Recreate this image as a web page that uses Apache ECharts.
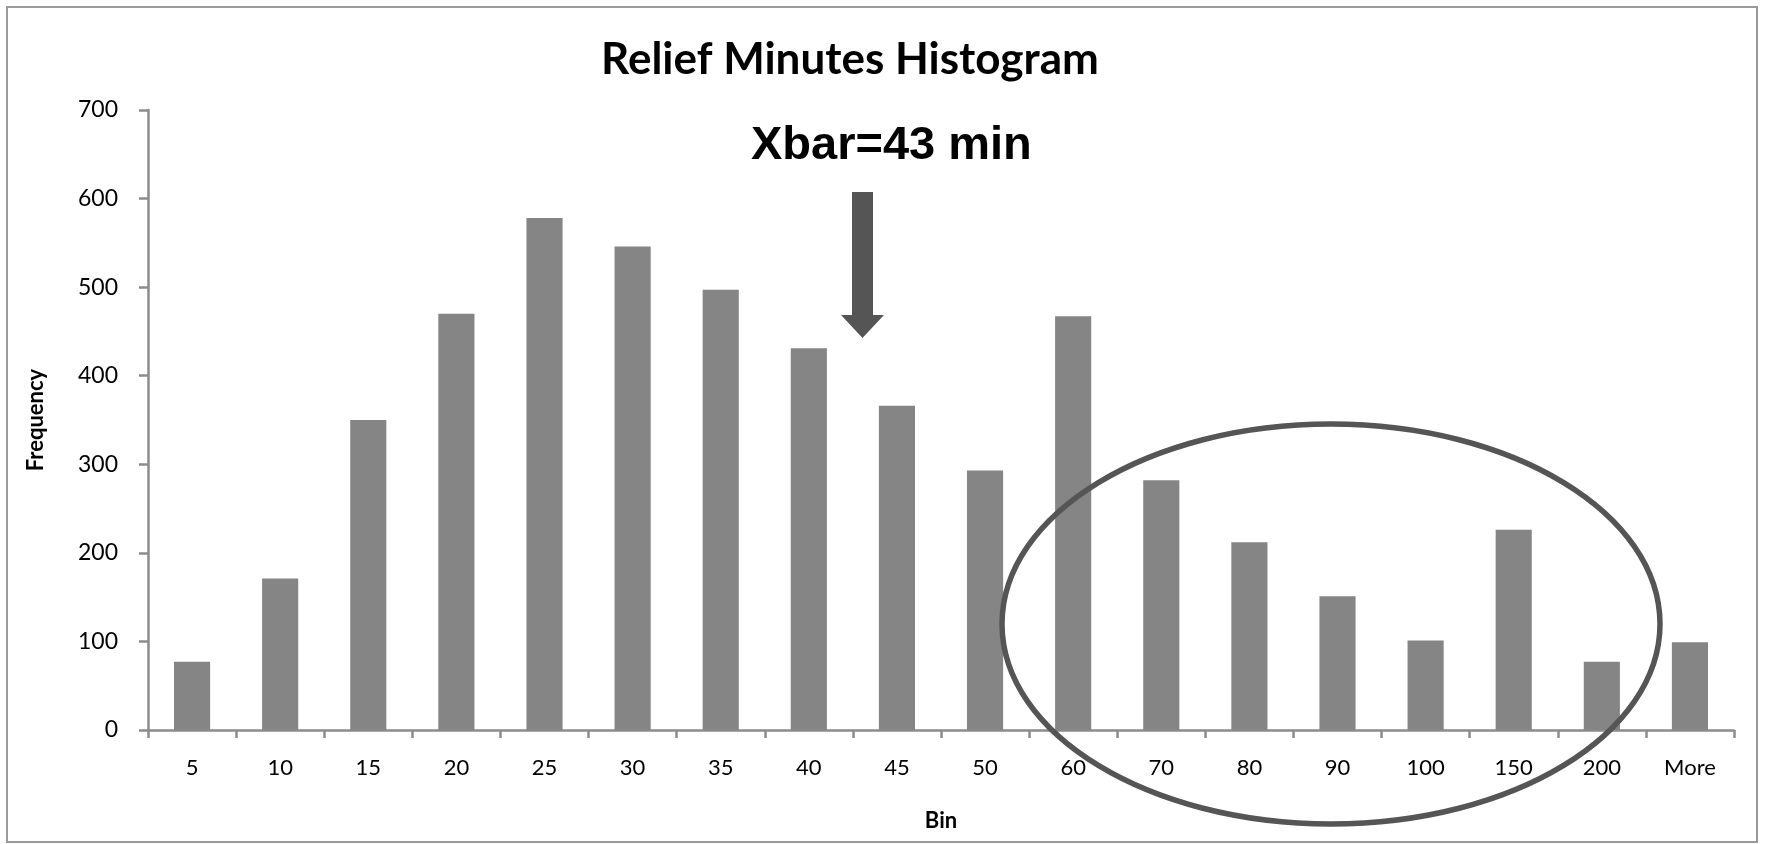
<!DOCTYPE html>
<html>
<head>
<meta charset="utf-8">
<title>Relief Minutes Histogram</title>
<script src="https://cdn.jsdelivr.net/npm/echarts@6/dist/echarts.min.js"></script>
<style>
  html, body { margin: 0; padding: 0; background: #fff; }
  #chart { width: 1765px; height: 844px; }
</style>
</head>
<body>
<div id="chart"></div>
<script>
// bins and frequencies
const bins = ['5', '10', '15', '20', '25', '30', '35', '40', '45', '50', '60', '70', '80', '90', '100', '150', '200', 'More']
const frequency = [77, 171, 350, 470, 578, 546, 497, 431, 366, 293, 467, 282, 212, 151, 101, 226, 77, 99]
const yTicks = [0, 100, 200, 300, 400, 500, 600, 700]

const axisColor = '#8c8c8c'
const chart = echarts.init(document.getElementById('chart'))

chart.setOption({
  animation: false,
  title: {
    text: 'Relief Minutes Histogram',
    left: 845,
    top: 33,
    textAlign: 'center',
    textStyle: {
      fontFamily: 'Lato',
      fontWeight: 'bold',
      fontSize: 44,
      color: '#000'
    }
  },
  grid: {
    left: 148,
    right: 31,
    top: 110,
    bottom: 114
  },
  xAxis: {
    type: 'category',
    data: bins,
    name: 'Bin',
    nameLocation: 'middle',
    nameGap: 80,
    nameTextStyle: { fontFamily: 'Lato', fontWeight: 'bold', fontSize: 22, color: '#000' },
    axisLine: { lineStyle: { color: axisColor, width: 2.5 } },
    axisTick: { show: true, length: 8, lineStyle: { color: axisColor, width: 2.5 } },
    axisLabel: { margin: 27, fontFamily: 'Lato', fontSize: 22, color: '#000' }
  },
  yAxis: {
    type: 'value',
    min: yTicks[0],
    max: yTicks[yTicks.length - 1],
    interval: 100,
    name: 'Frequency',
    nameLocation: 'middle',
    nameRotate: 90,
    nameGap: 101,
    nameTextStyle: { fontFamily: 'Lato', fontWeight: 'bold', fontSize: 22, color: '#000' },
    axisLine: { show: true, lineStyle: { color: axisColor, width: 2.5 } },
    axisTick: { show: true, length: 9, lineStyle: { color: axisColor, width: 2.5 } },
    axisLabel: { margin: 30, fontFamily: 'Lato', fontSize: 23, color: '#000' },
    splitLine: { show: false }
  },
  series: [
    {
      type: 'bar',
      data: frequency,
      barCategoryGap: '59%',
      itemStyle: { color: '#858585' }
    }
  ],
  graphic: [
    // outer frame
    {
      type: 'rect',
      z: 100,
      shape: { x: 7, y: 7, width: 1750, height: 835 },
      style: { fill: 'none', stroke: '#9a9a9a', lineWidth: 2 },
      silent: true
    },
    // mean annotation
    {
      type: 'text',
      z: 100,
      left: 751,
      top: 123,
      style: {
        text: 'Xbar=43 min',
        fontFamily: 'Liberation Sans',
        fontWeight: 'bold',
        fontSize: 47,
        fill: '#000'
      }
    },
    {
      type: 'polygon',
      z: 100,
      shape: {
        points: [[852, 192], [873, 192], [873, 315], [884, 315], [862.5, 338], [841, 315], [852, 315]]
      },
      style: { fill: '#555' },
      silent: true
    },
    // circled tail
    {
      type: 'ellipse',
      z: 100,
      shape: { cx: 1331, cy: 624, rx: 329, ry: 200 },
      style: { fill: 'none', stroke: '#555', lineWidth: 5.5 },
      silent: true
    }
  ]
})
</script>
</body>
</html>
